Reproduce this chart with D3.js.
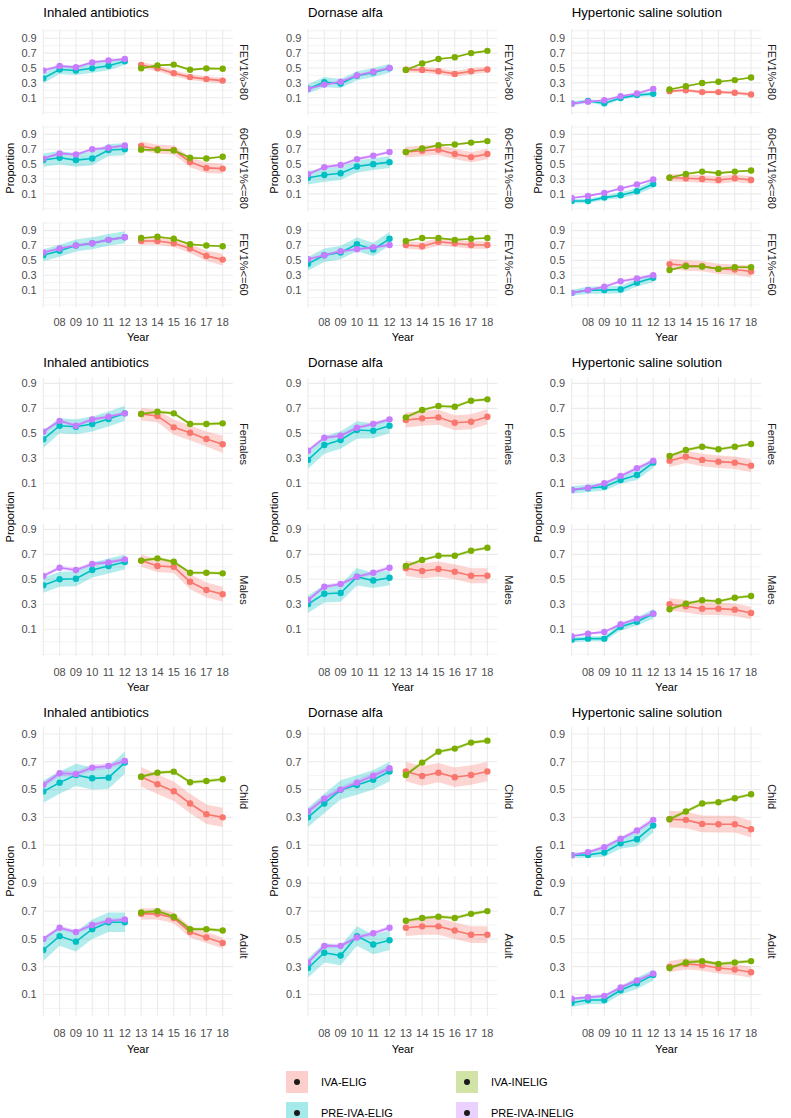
<!DOCTYPE html>
<html><head><meta charset="utf-8">
<script src="https://cdn.jsdelivr.net/npm/d3@7"></script>
<style>body{margin:0;background:#fff} svg{display:block} text{font-family:"Liberation Sans",Arial,Helvetica,sans-serif}</style>
</head><body><svg id="c" width="791" height="1118"></svg>
<script>
// ---------- DATA ----------
const drugs = ["Inhaled antibiotics","Dornase alfa","Hypertonic saline solution"];
const groupRows = [["FEV1%>80","60<FEV1%<=80","FEV1%<=60"],["Females","Males"],["Child","Adult"]];
const preYears = [7,8,9,10,11,12];
const postYears = [13,14,15,16,17,18];
const gridYears = [7,8,9,10,11,12,13,14,15,16,17,18];
const xTickYears = [8,9,10,11,12,13,14,15,16,17,18];
const xTickLabels = ["08","09","10","11","12","13","14","15","16","17","18"];
const yTicks = [0.1,0.3,0.5,0.7,0.9];
const yMinor = [-0.1,0,0.2,0.4,0.6,0.8,1.0];
const seriesNames = ["IVA-ELIG","IVA-INELIG","PRE-IVA-ELIG","PRE-IVA-INELIG"];
const seriesColors = ["#F8766D","#7CAE00","#00BFC4","#C77CFF"];

// facet order: row group -> drug -> subgroup
// PRE-IVA-ELIG (years 07-12)
const preEligMean = [
 [0.36,0.48,0.465,0.495,0.53,0.59],[0.555,0.586,0.555,0.577,0.69,0.70],[0.569,0.63,0.70,0.73,0.776,0.81],
 [0.22,0.31,0.29,0.395,0.44,0.495],[0.318,0.354,0.377,0.468,0.50,0.527],[0.454,0.569,0.606,0.716,0.647,0.79],
 [0.021,0.056,0.025,0.096,0.135,0.153],[0.005,0.005,0.05,0.082,0.136,0.232],[0.063,0.10,0.10,0.109,0.20,0.266],
 [0.452,0.561,0.553,0.575,0.615,0.66],[0.452,0.50,0.505,0.575,0.607,0.639],
 [0.287,0.407,0.447,0.527,0.521,0.561],[0.30,0.385,0.39,0.52,0.49,0.513],
 [0.047,0.06,0.073,0.127,0.167,0.265],[0.017,0.025,0.025,0.12,0.16,0.225],
 [0.486,0.55,0.605,0.581,0.586,0.694],[0.42,0.52,0.48,0.57,0.62,0.62],
 [0.30,0.40,0.498,0.533,0.57,0.63],[0.29,0.40,0.38,0.52,0.46,0.49],
 [0.028,0.03,0.047,0.114,0.143,0.241],[0.04,0.06,0.06,0.13,0.18,0.24]
];
const preEligHalf = [
 [0.07,0.06,0.06,0.06,0.06,0.05],[0.09,0.09,0.09,0.09,0.08,0.08],[0.08,0.08,0.08,0.08,0.08,0.08],
 [0.06,0.07,0.06,0.06,0.06,0.06],[0.09,0.09,0.09,0.08,0.08,0.08],[0.09,0.09,0.09,0.09,0.09,0.09],
 [0.025,0.025,0.025,0.025,0.025,0.03],[0.03,0.03,0.03,0.04,0.04,0.05],[0.04,0.05,0.05,0.05,0.05,0.06],
 [0.07,0.06,0.06,0.06,0.06,0.06],[0.06,0.06,0.06,0.06,0.06,0.06],
 [0.07,0.07,0.07,0.07,0.06,0.06],[0.07,0.07,0.07,0.07,0.06,0.06],
 [0.03,0.03,0.03,0.03,0.04,0.04],[0.02,0.02,0.02,0.03,0.03,0.04],
 [0.08,0.08,0.08,0.08,0.08,0.08],[0.08,0.07,0.07,0.07,0.07,0.07],
 [0.07,0.07,0.07,0.07,0.07,0.07],[0.07,0.07,0.07,0.07,0.07,0.07],
 [0.02,0.02,0.03,0.04,0.05,0.05],[0.03,0.03,0.03,0.03,0.04,0.04]
];
// PRE-IVA-INELIG (years 07-12)
const preInMean = [
 [0.465,0.527,0.51,0.575,0.60,0.62],[0.575,0.645,0.63,0.70,0.72,0.75],[0.606,0.66,0.70,0.73,0.776,0.81],
 [0.22,0.276,0.315,0.40,0.45,0.50],[0.364,0.46,0.49,0.568,0.614,0.664],[0.514,0.569,0.624,0.65,0.675,0.707],
 [0.02,0.047,0.065,0.12,0.157,0.219],[0.045,0.073,0.114,0.173,0.227,0.295],[0.063,0.10,0.146,0.22,0.256,0.30],
 [0.513,0.60,0.561,0.612,0.633,0.66],[0.527,0.593,0.575,0.623,0.636,0.66],
 [0.361,0.465,0.481,0.545,0.575,0.612],[0.334,0.441,0.463,0.52,0.553,0.593],
 [0.047,0.065,0.10,0.159,0.22,0.281],[0.044,0.065,0.079,0.14,0.185,0.225],
 [0.534,0.617,0.612,0.658,0.67,0.706],[0.50,0.58,0.55,0.60,0.63,0.64],
 [0.342,0.435,0.50,0.55,0.60,0.653],[0.33,0.45,0.45,0.51,0.54,0.58],
 [0.028,0.05,0.086,0.146,0.205,0.282],[0.07,0.08,0.09,0.15,0.20,0.25]
];
const preInHalf = [
 [0.02,0.02,0.02,0.02,0.02,0.02],[0.02,0.02,0.02,0.02,0.02,0.02],[0.02,0.02,0.02,0.02,0.02,0.02],
 [0.02,0.02,0.02,0.02,0.02,0.02],[0.02,0.02,0.02,0.02,0.02,0.02],[0.02,0.02,0.02,0.02,0.02,0.02],
 [0.01,0.01,0.01,0.015,0.015,0.02],[0.01,0.01,0.015,0.015,0.015,0.02],[0.015,0.015,0.015,0.02,0.02,0.02],
 [0.015,0.015,0.015,0.015,0.015,0.015],[0.015,0.015,0.015,0.015,0.015,0.015],
 [0.015,0.015,0.015,0.015,0.015,0.015],[0.015,0.015,0.015,0.015,0.015,0.015],
 [0.01,0.01,0.01,0.015,0.015,0.015],[0.01,0.01,0.01,0.015,0.015,0.015],
 [0.02,0.02,0.02,0.02,0.02,0.02],[0.015,0.015,0.015,0.015,0.015,0.015],
 [0.02,0.02,0.02,0.02,0.02,0.02],[0.015,0.015,0.015,0.015,0.015,0.015],
 [0.01,0.01,0.015,0.015,0.015,0.02],[0.01,0.01,0.01,0.015,0.015,0.015]
];
// IVA-ELIG (years 13-18)
const ivaEligMean = [
 [0.54,0.495,0.43,0.377,0.35,0.33],[0.745,0.70,0.69,0.53,0.45,0.44],[0.76,0.76,0.73,0.66,0.56,0.51],
 [0.478,0.474,0.456,0.42,0.456,0.48],[0.664,0.68,0.695,0.636,0.595,0.636],[0.707,0.69,0.75,0.73,0.707,0.707],
 [0.188,0.20,0.175,0.175,0.166,0.144],[0.318,0.31,0.30,0.286,0.31,0.286],[0.45,0.43,0.422,0.385,0.376,0.35],
 [0.655,0.639,0.548,0.505,0.455,0.412],[0.65,0.607,0.60,0.48,0.415,0.38],
 [0.607,0.62,0.628,0.585,0.593,0.633],[0.588,0.567,0.583,0.561,0.529,0.529],
 [0.281,0.313,0.287,0.273,0.265,0.241],[0.30,0.284,0.265,0.265,0.257,0.23],
 [0.593,0.538,0.488,0.40,0.323,0.30],[0.68,0.68,0.65,0.55,0.51,0.47],
 [0.63,0.598,0.622,0.589,0.605,0.63],[0.58,0.59,0.59,0.56,0.53,0.53],
 [0.287,0.282,0.253,0.251,0.251,0.215],[0.30,0.32,0.31,0.29,0.28,0.26]
];
const ivaEligHalf = [
 [0.04,0.04,0.04,0.04,0.04,0.04],[0.06,0.06,0.06,0.07,0.07,0.07],[0.05,0.05,0.05,0.06,0.07,0.08],
 [0.04,0.04,0.04,0.04,0.04,0.04],[0.07,0.07,0.07,0.07,0.07,0.07],[0.05,0.05,0.05,0.05,0.05,0.05],
 [0.02,0.02,0.02,0.02,0.02,0.025],[0.05,0.05,0.05,0.05,0.05,0.05],[0.07,0.07,0.07,0.07,0.07,0.08],
 [0.05,0.05,0.06,0.06,0.06,0.07],[0.05,0.05,0.05,0.06,0.06,0.06],
 [0.06,0.06,0.06,0.06,0.06,0.06],[0.06,0.06,0.06,0.06,0.06,0.06],
 [0.05,0.05,0.05,0.05,0.05,0.05],[0.05,0.05,0.05,0.05,0.05,0.05],
 [0.07,0.07,0.07,0.07,0.07,0.07],[0.04,0.04,0.04,0.04,0.04,0.04],
 [0.07,0.07,0.07,0.07,0.07,0.07],[0.06,0.06,0.06,0.06,0.06,0.06],
 [0.06,0.06,0.06,0.06,0.06,0.06],[0.04,0.04,0.04,0.04,0.04,0.04]
];
// IVA-INELIG (years 13-18)
const ivaInMean = [
 [0.495,0.535,0.545,0.475,0.495,0.49],[0.695,0.69,0.685,0.586,0.577,0.60],[0.80,0.817,0.79,0.716,0.70,0.69],
 [0.474,0.56,0.62,0.645,0.70,0.73],[0.664,0.71,0.755,0.764,0.79,0.81],[0.76,0.80,0.80,0.776,0.79,0.80],
 [0.21,0.254,0.298,0.315,0.337,0.372],[0.318,0.368,0.40,0.38,0.40,0.414],[0.371,0.42,0.417,0.385,0.408,0.408],
 [0.655,0.673,0.66,0.575,0.575,0.58],[0.65,0.668,0.641,0.553,0.553,0.548],
 [0.628,0.687,0.719,0.713,0.761,0.772],[0.607,0.655,0.689,0.689,0.729,0.753],
 [0.319,0.367,0.393,0.372,0.393,0.415],[0.26,0.305,0.332,0.324,0.353,0.367],
 [0.593,0.622,0.629,0.553,0.562,0.574],[0.69,0.70,0.66,0.57,0.57,0.56],
 [0.605,0.694,0.773,0.795,0.838,0.852],[0.63,0.65,0.66,0.65,0.68,0.70],
 [0.287,0.342,0.40,0.409,0.438,0.466],[0.29,0.33,0.34,0.32,0.33,0.34]
];
const ivaInHalf = [
 [0.012,0.012,0.012,0.012,0.012,0.012],[0.012,0.012,0.012,0.012,0.012,0.012],[0.012,0.012,0.012,0.012,0.012,0.012],
 [0.012,0.012,0.012,0.012,0.012,0.012],[0.012,0.012,0.012,0.012,0.012,0.012],[0.012,0.012,0.012,0.012,0.012,0.012],
 [0.01,0.01,0.01,0.01,0.01,0.01],[0.012,0.012,0.012,0.012,0.012,0.012],[0.012,0.012,0.012,0.012,0.012,0.012],
 [0.012,0.012,0.012,0.012,0.012,0.012],[0.012,0.012,0.012,0.012,0.012,0.012],
 [0.012,0.012,0.012,0.012,0.012,0.012],[0.012,0.012,0.012,0.012,0.012,0.012],
 [0.012,0.012,0.012,0.012,0.012,0.012],[0.012,0.012,0.012,0.012,0.012,0.012],
 [0.012,0.012,0.012,0.012,0.012,0.012],[0.012,0.012,0.012,0.012,0.012,0.012],
 [0.012,0.012,0.012,0.012,0.012,0.012],[0.012,0.012,0.012,0.012,0.012,0.012],
 [0.012,0.012,0.012,0.012,0.012,0.012],[0.012,0.012,0.012,0.012,0.012,0.012]
];

// ---------- LAYOUT ----------
const colLeft = [43.3, 308, 571.7];
const panelW = 189.5;
const groupLayout = [
  {title:12.7, tops:[29.3,125.5,221.7], h:85.5, dom:[-0.13,1.02], xlab:322.3, year:337},
  {title:362.7, tops:[378,524], h:132, dom:[-0.114,0.943], xlab:671.7, year:687.3},
  {title:712.7, tops:[726.7,876], h:140, dom:[-0.055,0.9525], xlab:1033, year:1049}
];

const svg = d3.select("#c");
svg.append("rect").attr("width",791).attr("height",1118).attr("fill","#fff");
const defs = svg.append("defs");

const seriesSets = [
  {name:0, years:postYears, mean:ivaEligMean, half:ivaEligHalf},
  {name:1, years:postYears, mean:ivaInMean, half:ivaInHalf},
  {name:2, years:preYears, mean:preEligMean, half:preEligHalf},
  {name:3, years:preYears, mean:preInMean, half:preInHalf}
];

let facetIdx = 0;
groupRows.forEach((subs, gi) => {
  const L = groupLayout[gi];
  drugs.forEach((drug, di) => {
    const left = colLeft[di];
    const x = d3.scaleLinear().domain([7, 18.62]).range([left, left + panelW]);
    svg.append("text").attr("x", left).attr("y", L.title).attr("dy","0.35em")
      .attr("font-size", 13.2).attr("fill","#000").text(drug);
    subs.forEach((sub, si) => {
      const top = L.tops[si];
      const y = d3.scaleLinear().domain(L.dom).range([top + L.h, top]);
      const g = svg.append("g");
      const cid = "clip" + facetIdx;
      defs.append("clipPath").attr("id", cid).append("rect")
        .attr("x", left).attr("y", top).attr("width", panelW).attr("height", L.h);
      g.selectAll(".mn").data(yMinor.filter(v => v >= L.dom[0] && v <= L.dom[1])).join("line")
        .attr("x1", left).attr("x2", left + panelW).attr("y1", d => y(d)).attr("y2", d => y(d))
        .attr("stroke", "#ebebeb").attr("stroke-width", 0.6);
      g.selectAll(".mj").data(yTicks).join("line")
        .attr("x1", left).attr("x2", left + panelW).attr("y1", d => y(d)).attr("y2", d => y(d))
        .attr("stroke", "#ebebeb").attr("stroke-width", 1.1);
      g.selectAll(".vx").data(gridYears).join("line")
        .attr("x1", d => x(d)).attr("x2", d => x(d)).attr("y1", top).attr("y2", top + L.h)
        .attr("stroke", "#ebebeb").attr("stroke-width", 1.1);
      g.selectAll(".yl").data(yTicks).join("text")
        .attr("x", left - 6.6).attr("y", d => y(d)).attr("dy","0.35em").attr("text-anchor","end")
        .attr("font-size", 11).attr("fill","#4d4d4d").text(d => d3.format(".1f")(d));
      const sx = left + panelW + 11;
      g.append("text").attr("transform", `translate(${sx},${top + L.h/2}) rotate(90)`)
        .attr("text-anchor","middle").attr("dy","0.35em").attr("font-size", 11).attr("fill","#1a1a1a").text(sub);
      const dg = g.append("g").attr("clip-path", `url(#${cid})`);
      const fi = facetIdx;
      seriesSets.forEach(s => {
        const pts = s.years.map((yr, k) => ({x: yr, lo: s.mean[fi][k] - s.half[fi][k], hi: s.mean[fi][k] + s.half[fi][k]}));
        dg.append("path").datum(pts)
          .attr("d", d3.area().x(d => x(d.x)).y0(d => y(d.lo)).y1(d => y(d.hi)))
          .attr("fill", seriesColors[s.name]).attr("fill-opacity", 0.3);
      });
      seriesSets.forEach(s => {
        const pts = s.years.map((yr, k) => ({x: yr, v: s.mean[fi][k]}));
        dg.append("path").datum(pts)
          .attr("d", d3.line().x(d => x(d.x)).y(d => y(d.v)))
          .attr("fill","none").attr("stroke", seriesColors[s.name]).attr("stroke-width", 1.6);
        dg.selectAll(null).data(pts).join("circle")
          .attr("cx", d => x(d.x)).attr("cy", d => y(d.v)).attr("r", 3.2)
          .attr("fill", seriesColors[s.name]);
      });
      facetIdx++;
    });
    svg.append("g").selectAll("text").data(xTickYears).join("text")
      .attr("x", d => x(d)).attr("y", L.xlab).attr("dy","0.35em").attr("text-anchor","middle")
      .attr("font-size", 11).attr("fill","#4d4d4d").text((d,i) => xTickLabels[i]);
    svg.append("text").attr("x", left + panelW/2).attr("y", L.year).attr("dy","0.35em")
      .attr("text-anchor","middle").attr("font-size", 11).attr("fill","#000").text("Year");
    const midY = (L.tops[0] + L.tops[L.tops.length-1] + L.h) / 2;
    const px = [10, 274.5, 538][di];
    svg.append("text").attr("transform", `translate(${px},${midY}) rotate(-90)`)
      .attr("text-anchor","middle").attr("dy","0.35em").attr("font-size", 11).attr("fill","#000").text("Proportion");
  });
});

// ---------- LEGEND ----------
const legendPos = [[297,1082],[467,1082],[297,1113],[467,1113]];
const lg = svg.append("g");
seriesNames.forEach((nm, i) => {
  const [cx, cy] = legendPos[i];
  lg.append("rect").attr("x", cx - 11).attr("y", cy - 11).attr("width", 22).attr("height", 22)
    .attr("fill", seriesColors[i]).attr("fill-opacity", 0.35);
  lg.append("circle").attr("cx", cx).attr("cy", cy).attr("r", 3).attr("fill", "#1a1a1a");
  lg.append("text").attr("x", cx + 24).attr("y", cy).attr("dy","0.35em").attr("font-size", 11).attr("fill","#000").text(nm);
});
</script></body></html>
